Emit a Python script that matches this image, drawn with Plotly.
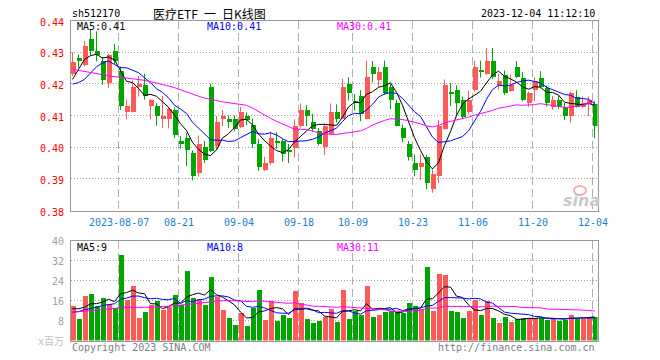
import plotly.graph_objects as go
import pandas as pd

W, H = 660, 360

holidays = ["2023-09-29", "2023-10-02", "2023-10-03", "2023-10-04", "2023-10-05", "2023-10-06"]
dates = [d.strftime("%Y-%m-%d") for d in pd.bdate_range("2023-07-26", "2023-12-04")
         if d.strftime("%Y-%m-%d") not in holidays]

opens = [0.4232, 0.4282, 0.4260, 0.4342, 0.4304, 0.4274, 0.4203, 0.4304, 0.4242, 0.4113,
         0.4113, 0.4191, 0.4199, 0.4131, 0.4131, 0.4090, 0.4090, 0.4120, 0.4020, 0.4032,
         0.3982, 0.3920, 0.4002, 0.4192, 0.4005, 0.4090, 0.4090, 0.4089, 0.4065, 0.4099,
         0.4071, 0.4011, 0.3928, 0.3952, 0.4018, 0.4020, 0.3990, 0.4000, 0.4068, 0.4120,
         0.4080, 0.4052, 0.4002, 0.4042, 0.4112, 0.4092, 0.4201, 0.4147, 0.4162, 0.4090,
         0.4254, 0.4215, 0.4254, 0.4191, 0.4140, 0.4062, 0.4012, 0.3951, 0.3938, 0.3970,
         0.3870, 0.3910, 0.4060, 0.4175, 0.4181, 0.4150, 0.4112, 0.4181, 0.4243, 0.4233,
         0.4273, 0.4199, 0.4230, 0.4180, 0.4254, 0.4221, 0.4140, 0.4182, 0.4221, 0.4190,
         0.4130, 0.4150, 0.4130, 0.4099, 0.4160, 0.4130, 0.4139, 0.4139]
highs = [0.4300, 0.4293, 0.4335, 0.4373, 0.4365, 0.4285, 0.4295, 0.4326, 0.4255, 0.4150,
         0.4211, 0.4225, 0.4232, 0.4152, 0.4139, 0.4162, 0.4125, 0.4125, 0.4035, 0.4045,
         0.3990, 0.4037, 0.4020, 0.4200, 0.4098, 0.4118, 0.4100, 0.4100, 0.4127, 0.4110,
         0.4090, 0.4025, 0.3969, 0.4050, 0.4048, 0.4025, 0.4010, 0.4088, 0.4138, 0.4133,
         0.4105, 0.4060, 0.4075, 0.4138, 0.4135, 0.4216, 0.4221, 0.4168, 0.4180, 0.4272,
         0.4272, 0.4253, 0.4273, 0.4200, 0.4150, 0.4072, 0.4020, 0.3977, 0.3977, 0.3975,
         0.3930, 0.4085, 0.4214, 0.4202, 0.4195, 0.4160, 0.4178, 0.4273, 0.4273, 0.4313,
         0.4313, 0.4232, 0.4242, 0.4230, 0.4272, 0.4238, 0.4175, 0.4220, 0.4240, 0.4195,
         0.4162, 0.4162, 0.4140, 0.4175, 0.4180, 0.4160, 0.4160, 0.4145]
lows = [0.4225, 0.4251, 0.4255, 0.4290, 0.4271, 0.4197, 0.4187, 0.4262, 0.4118, 0.4088,
        0.4110, 0.4160, 0.4150, 0.4088, 0.4068, 0.4060, 0.4060, 0.4029, 0.3995, 0.3940,
        0.3895, 0.3907, 0.3950, 0.3985, 0.3995, 0.4066, 0.4060, 0.4050, 0.4060, 0.4070,
        0.3998, 0.3925, 0.3925, 0.3945, 0.3995, 0.3955, 0.3950, 0.3968, 0.4062, 0.4066,
        0.4048, 0.4005, 0.3975, 0.4040, 0.4078, 0.4090, 0.4147, 0.4115, 0.4082, 0.4088,
        0.4205, 0.4190, 0.4165, 0.4120, 0.4065, 0.4015, 0.3958, 0.3908, 0.3895, 0.3867,
        0.3856, 0.3887, 0.4055, 0.4130, 0.4098, 0.4090, 0.4103, 0.4175, 0.4220, 0.4228,
        0.4215, 0.4182, 0.4165, 0.4175, 0.4218, 0.4145, 0.4128, 0.4145, 0.4185, 0.4128,
        0.4118, 0.4120, 0.4086, 0.4078, 0.4125, 0.4125, 0.4098, 0.4028]
closes = [0.4272, 0.4274, 0.4322, 0.4305, 0.4293, 0.4213, 0.4292, 0.4274, 0.4131, 0.4131,
          0.4192, 0.4200, 0.4162, 0.4150, 0.4099, 0.4099, 0.4121, 0.4039, 0.4012, 0.3992,
          0.3911, 0.4013, 0.3962, 0.3990, 0.4080, 0.4099, 0.4082, 0.4058, 0.4112, 0.4088,
          0.4013, 0.3938, 0.3951, 0.4030, 0.4015, 0.3980, 0.3987, 0.4070, 0.4120, 0.4099,
          0.4059, 0.4012, 0.4070, 0.4112, 0.4090, 0.4191, 0.4172, 0.4144, 0.4105, 0.4222,
          0.4233, 0.4240, 0.4172, 0.4150, 0.4070, 0.4030, 0.3970, 0.3929, 0.3951, 0.3888,
          0.3918, 0.4070, 0.4199, 0.4172, 0.4140, 0.4098, 0.4150, 0.4254, 0.4240, 0.4273,
          0.4222, 0.4212, 0.4172, 0.4199, 0.4222, 0.4150, 0.4172, 0.4212, 0.4191, 0.4140,
          0.4150, 0.4130, 0.4099, 0.4172, 0.4130, 0.4140, 0.4149, 0.4070]
volumes = [14.0, 8.8, 18.0, 18.8, 14.0, 17.2, 14.7, 13.1, 34.4, 16.4,
           22.0, 9.2, 11.6, 14.4, 16.0, 12.4, 13.6, 18.4, 14.4, 28.0,
           17.2, 16.8, 14.4, 25.6, 17.6, 12.4, 9.2, 6.4, 11.2, 6.0,
           13.1, 20.4, 8.4, 16.0, 8.0, 10.4, 9.2, 20.0, 15.2, 8.8,
           7.2, 8.0, 9.6, 12.8, 7.6, 20.4, 8.8, 12.0, 10.4, 22.0,
           9.6, 10.4, 11.6, 12.0, 11.6, 11.2, 15.2, 14.0, 12.8, 29.6,
           12.0, 26.8, 26.4, 12.0, 11.6, 9.2, 12.0, 16.4, 10.4, 16.0,
           9.2, 7.2, 9.6, 7.6, 8.8, 9.2, 9.2, 9.2, 9.2, 8.4,
           8.8, 8.0, 8.4, 10.4, 8.8, 8.8, 9.6, 9.6]

# moving-average values at the start of the window (need earlier history)
ma5_head = [0.4214, 0.4246, 0.4277, 0.4289]
ma10_head = [0.4199, 0.4204, 0.4214, 0.4235, 0.4254, 0.4266, 0.4272, 0.4261, 0.4251]
ma30_head = [0.4246, 0.4243, 0.4240, 0.4236, 0.4232, 0.4229, 0.4225, 0.4222, 0.4220, 0.4218,
             0.4216, 0.4214, 0.4211, 0.4207, 0.4203, 0.4198, 0.4193, 0.4188, 0.4181, 0.4174,
             0.4166, 0.4161, 0.4155, 0.4150, 0.4147, 0.4143, 0.4140, 0.4137, 0.4134]
vma5_head = [12.7, 12.7, 13.3, 14.7]
vma10_head = [11.3, 11.6, 12.3, 12.7, 13.3, 14.0, 14.4, 14.7, 16.5]
vma30_head = [11.3, 11.5, 11.7, 11.9, 12.0, 12.2, 12.5, 12.8, 13.2, 13.3,
              13.3, 13.3, 13.3, 13.3, 13.4, 13.5, 13.7, 13.9, 14.2, 14.4,
              14.6, 14.8, 15.1, 15.4, 15.8, 16.0, 16.0, 15.9, 15.7]

tick_dates = ["2023-08-07", "2023-08-21", "2023-09-04", "2023-09-18", "2023-10-09",
              "2023-10-23", "2023-11-06", "2023-11-20", "2023-12-04"]
tick_labels = ["2023-08-07", "08-21", "09-04", "09-18", "10-09", "10-23", "11-06", "11-20", "12-04"]
price_ticks = [0.38, 0.39, 0.40, 0.41, 0.42, 0.43, 0.44]
price_tick_text = ["0.38", "0.39", "0.40", "0.41", "0.42", "0.43", "0.44"]
vol_ticks = [8, 16, 24, 32, 40]

title_code = "sh512170"
title_name = "医疗ETF\u2002一\u2002日K线图"
timestamp = "2023-12-04 11:12:10"
price_legend = ["MA5:0.41", "MA10:0.41", "MA30:0.41"]
vol_legend = ["MA5:9", "MA10:8", "MA30:11"]

RED = "#ff5858"
GREEN = "#00a600"
MA_COLORS = ["#000000", "#0000ff", "#ff00ff"]
MONO = "DejaVu Sans Mono, Liberation Mono, monospace"


def moving(values, n, head):
    s = pd.Series(values).rolling(n).mean().tolist()
    s[:len(head)] = head
    return s


idx = list(range(len(dates)))
up = [c >= o for o, c in zip(opens, closes)]
colors = [RED if u else GREEN for u in up]


def px(x):
    return x / W


def py(y):
    return 1 - y / H


X0, X1 = 70.5, 597.5
C0 = 72.5          # pixel centre of first candle
STEP = 6.0
xr = [(X0 - C0) / STEP, (X1 - C0) / STEP]
P_TOP, P_BOT = 20.5, 210.5
V_TOP, V_BOT = 240.5, 340.5

grid_x = [dates.index(d) - 2 / STEP for d in tick_dates]

fig = go.Figure()

# wicks
for col, flag in [(RED, True), (GREEN, False)]:
    xs, ys = [], []
    for i in idx:
        if up[i] == flag:
            xs += [i, i, None]
            ys += [lows[i], highs[i], None]
    fig.add_trace(go.Scatter(x=xs, y=ys, mode="lines", line=dict(color=col, width=1),
                             hoverinfo="skip", showlegend=False, xaxis="x", yaxis="y"))

body_base = [min(o, c) for o, c in zip(opens, closes)]
body_h = [max(abs(c - o), 0.00004) for o, c in zip(opens, closes)]
fig.add_trace(go.Bar(x=idx, y=body_h, base=body_base, width=5 / STEP,
                     marker=dict(color=colors, line=dict(width=0)),
                     showlegend=False, xaxis="x", yaxis="y"))

for n, head, col in zip([5, 10, 30], [ma5_head, ma10_head, ma30_head], MA_COLORS):
    fig.add_trace(go.Scatter(x=idx, y=moving(closes, n, head), mode="lines",
                             line=dict(color=col, width=1), showlegend=False,
                             hoverinfo="skip", xaxis="x", yaxis="y"))

fig.add_trace(go.Bar(x=idx, y=volumes, width=5 / STEP,
                     marker=dict(color=colors, line=dict(width=0)),
                     showlegend=False, xaxis="x2", yaxis="y2"))
for n, head, col in zip([5, 10, 30], [vma5_head, vma10_head, vma30_head], MA_COLORS):
    fig.add_trace(go.Scatter(x=idx, y=moving(volumes, n, head), mode="lines",
                             line=dict(color=col, width=1), showlegend=False,
                             hoverinfo="skip", xaxis="x2", yaxis="y2"))

xaxis_common = dict(domain=[px(X0), px(X1)], range=xr, showline=True, mirror=True,
                    linecolor="#999999", linewidth=1, tickvals=grid_x, showgrid=True,
                    gridcolor="#b0b0b0", gridwidth=1, griddash="8px,4px",
                    showticklabels=False, ticks="", zeroline=False, fixedrange=True)
yaxis_common = dict(showline=True, mirror=True, linecolor="#999999", linewidth=1,
                    showgrid=True, gridcolor="#a0a0a0", gridwidth=1, griddash="1px,2px",
                    showticklabels=False, ticks="", zeroline=False, fixedrange=True)

annotations = []


def text(x, y, s, color="#000000", size=10, anchor="left", family=MONO, xref="paper"):
    annotations.append(dict(x=x if xref != "paper" else px(x), y=py(y + 1), xref=xref, yref="paper",
                            text=s, showarrow=False, xanchor=anchor, yanchor="middle",
                            font=dict(family=family, size=size, color=color)))


text(70, 13, title_code)
text(209, 13, title_name, size=12, anchor="center",
     family="Noto Sans CJK SC, Noto Sans, sans-serif")
text(597, 13, timestamp, anchor="right")

for v, s in zip(price_ticks, price_tick_text):
    yy = P_BOT - (v - 0.38) / 0.06 * (P_BOT - P_TOP)
    text(66, yy + 0.5, s, color="#ff0000", anchor="right")
for v in vol_ticks:
    yy = V_BOT - v / 40 * (V_BOT - V_TOP)
    text(66, yy, str(v), color="#a0a0a0", anchor="right")
text(66, 340, "x百万", color="#c0c0c0", anchor="right",
     family="DejaVu Sans Mono, Noto Sans CJK SC, monospace")

for d, lab in zip(tick_dates, tick_labels):
    text(dates.index(d) - 2 / STEP, 221.5, lab, color="#1a7fd0", anchor="center", xref="x")

for xpos, s, col in zip([75, 205, 335], price_legend, MA_COLORS):
    text(xpos, 26, s, color=col)
for xpos, s, col in zip([75, 205, 335], vol_legend, MA_COLORS):
    text(xpos, 246, s, color=col)

text(70, 346, "Copyright 2023 SINA.COM", color="#808080")
text(597, 346, "http://finance.sina.com.cn", color="#808080", anchor="right")

# sina watermark
text(581, 199, "<b><i>sina</i></b>", color="#c8c8c8", size=16, anchor="center",
     family="DejaVu Sans, sans-serif")
shapes = [dict(type="circle", xref="paper", yref="paper",
               x0=px(574), x1=px(586), y0=py(195), y1=py(186),
               line=dict(color="#f2b0b0", width=2), fillcolor="rgba(0,0,0,0)")]

fig.update_layout(
    width=W, height=H, margin=dict(l=0, r=0, t=0, b=0),
    paper_bgcolor="#ffffff", plot_bgcolor="#ffffff",
    showlegend=False, bargap=0,
    xaxis=dict(anchor="y", **xaxis_common),
    yaxis=dict(anchor="x", domain=[py(P_BOT), py(P_TOP)], range=[0.38, 0.44],
               tickvals=price_ticks[1:-1], **yaxis_common),
    xaxis2=dict(anchor="y2", **xaxis_common),
    yaxis2=dict(anchor="x2", domain=[py(V_BOT), py(V_TOP)], range=[0, 40],
                tickvals=vol_ticks[:-1], **yaxis_common),
    annotations=annotations,
    shapes=shapes,
)

fig.write_html("out.html", config={"displayModeBar": False},
               post_script="document.body.style.margin='0';document.body.style.overflow='hidden';")
